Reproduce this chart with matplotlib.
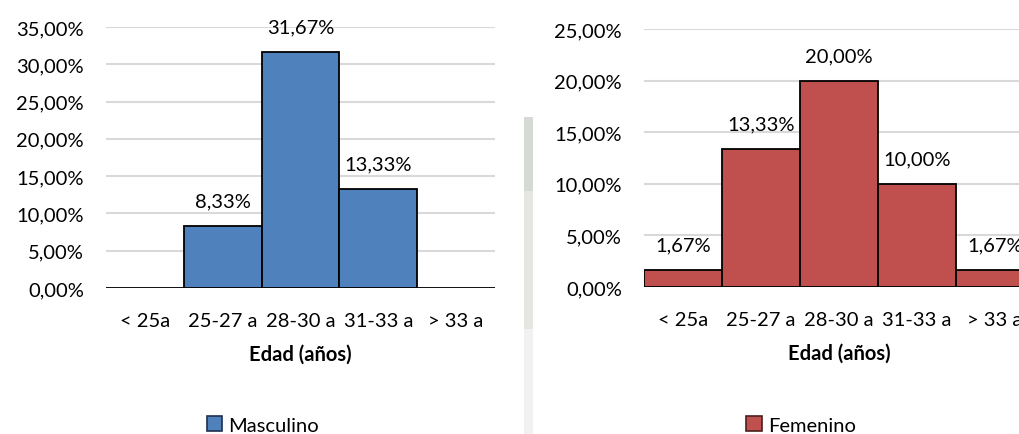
import matplotlib
matplotlib.use("Agg")
import matplotlib.pyplot as plt
from matplotlib.patches import Patch, Rectangle
from matplotlib.ticker import FuncFormatter

categories = ["< 25a", "25-27 a", "28-30 a", "31-33 a", "> 33 a"]
masculino = [0.0, 8.33, 31.67, 13.33, 0.0]
femenino = [1.67, 13.33, 20.00, 10.00, 1.67]

plt.rcParams['font.family'] = ['Lato', 'DejaVu Sans']
FS = 14.5

fig = plt.figure(figsize=(10.19, 4.35), dpi=100)
fig.patch.set_facecolor('white')

# faint scan artifact strip (y ranges in pixels from top, with colours)
strip = [(118, 192, '#d6dad4'), (192, 330, '#e4e6e2'), (330, 435, '#f1f2f0')]
for y0, y1, c in strip:
    fig.patches.append(Rectangle((524/1019, 1 - y1/435), 9/1019, (y1 - y0)/435,
                                 transform=fig.transFigure, facecolor=c,
                                 edgecolor='none', zorder=0))

def fmt(v, pos=None):
    return f"{v:.2f}".replace('.', ',') + "%"

def panel(rect, values, color, ymax, label_zero):
    ax = fig.add_axes(rect)
    ax.patch.set_alpha(0)
    x = range(len(categories))
    ax.bar(x, values, width=1.0, color=color, edgecolor='black', linewidth=1.3, zorder=3)
    ax.set_xlim(-0.5, 4.5)
    ax.set_ylim(0, ymax)
    ax.set_yticks([i * 5 for i in range(int(ymax / 5) + 1)])
    ax.yaxis.set_major_formatter(FuncFormatter(fmt))
    ax.set_xticks(list(x))
    ax.set_xticklabels(categories)
    ax.grid(axis='y', color='#d9d9d9', linewidth=1.5, zorder=0)
    for s in ax.spines.values():
        s.set_visible(False)
    ax.tick_params(axis='both', length=0, labelsize=FS, colors='#000000')
    ax.tick_params(axis='y', pad=16)
    ax.tick_params(axis='x', pad=17)
    ax.set_xlabel("Edad (años)", fontsize=FS, fontweight='bold', labelpad=11)
    for i, v in enumerate(values):
        if v == 0 and not label_zero:
            continue
        ax.annotate(fmt(v), (i, v), xytext=(0, 12), textcoords='offset points',
                    ha='center', va='bottom', fontsize=FS, annotation_clip=False)
    return ax

ax1 = panel([106/1019, 1 - 289/435, 389/1019, 261/435], masculino, '#4F81BD', 35, False)
ax2 = panel([644/1019, 1 - 288/435, 390/1019, 258/435], femenino, '#C0504D', 25, True)

fig.legend(handles=[Patch(facecolor='#4F81BD', edgecolor='#1f2f4f', linewidth=1.2)],
           labels=['Masculino'], loc='center', bbox_to_anchor=(263/1019, 1 - 426/435),
           frameon=False, fontsize=FS, handlelength=0.75, handleheight=0.75, handletextpad=0.3)
fig.legend(handles=[Patch(facecolor='#C0504D', edgecolor='#4a1f1e', linewidth=1.2)],
           labels=['Femenino'], loc='center', bbox_to_anchor=(801/1019, 1 - 426/435),
           frameon=False, fontsize=FS, handlelength=0.75, handleheight=0.75, handletextpad=0.3)

fig.savefig("out.png", dpi=100)
